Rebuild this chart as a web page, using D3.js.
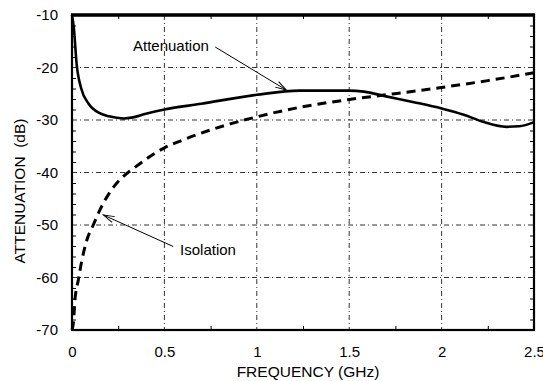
<!DOCTYPE html>
<html>
<head>
<meta charset="utf-8">
<script src="https://cdn.jsdelivr.net/npm/d3@7"></script>
<style>
  body { margin: 0; background: #fff; }
  svg { display: block; font-family: "Liberation Sans", Arial, sans-serif; }
  .tick text { font-size: 15px; fill: #000; }
</style>
</head>
<body>
<div id="chart"></div>
<script>
// data (frequency in GHz, level in dB)
const attenFreq = [0, 0.01, 0.025, 0.05, 0.09, 0.15, 0.2, 0.28, 0.33, 0.4, 0.5, 0.7, 1.0, 1.23, 1.5, 1.58, 1.7, 1.85, 2.0, 2.12, 2.23, 2.35, 2.42, 2.5];
const attenDb = [-10, -12.5, -19.3, -24, -26.9, -28.7, -29.3, -29.7, -29.5, -28.8, -28.0, -26.9, -25.2, -24.4, -24.4, -24.6, -25.5, -26.6, -27.8, -29.0, -30.4, -31.3, -31.2, -30.4];
const isoFreq = [0, 0.007, 0.016, 0.034, 0.052, 0.08, 0.115, 0.15, 0.21, 0.27, 0.33, 0.42, 0.5, 0.6, 0.74, 0.87, 1.0, 1.23, 1.5, 1.7, 2.0, 2.25, 2.5];
const isoDb = [-70, -68.8, -64.3, -60.5, -57, -52.9, -50, -47.2, -43.5, -41, -39.3, -37, -35.3, -33.8, -32, -30.6, -29.4, -27.6, -26.1, -25.2, -23.8, -22.5, -21];

const xTicks = [0, 0.5, 1, 1.5, 2, 2.5];
const yTicks = [-10, -20, -30, -40, -50, -60, -70];

// callouts: label, text anchor point, arrow tail, arrow tip (data units)
const callouts = [
  { label: "Attenuation", tx: 0.33, ty: -16.1, fx: 0.775, fy: -16.1, ax: 1.16, ay: -24.3 },
  { label: "Isolation", tx: 0.585, ty: -55.0, fx: 0.548, fy: -54.1, ax: 0.17, ay: -48.1 }
];

const width = 543, height = 381;
const margin = { top: 15, right: 9, bottom: 51, left: 72 };

const svg = d3.select("#chart").append("svg")
  .attr("width", width)
  .attr("height", height);

const x = d3.scaleLinear().domain([0, 2.5]).range([margin.left, width - margin.right]);
const y = d3.scaleLinear().domain([-70, -10]).range([height - margin.bottom, margin.top]);

svg.append("defs").append("marker")
  .attr("id", "arr")
  .attr("viewBox", "-12 -6 14 12")
  .attr("refX", 0).attr("refY", 0)
  .attr("markerWidth", 14).attr("markerHeight", 12)
  .attr("markerUnits", "userSpaceOnUse")
  .attr("orient", "auto")
  .append("path")
  .attr("d", "M-11,-3.2 L0,0 L-11,3.2")
  .attr("fill", "none")
  .attr("stroke", "#000")
  .attr("stroke-width", 1);

// grid
const grid = svg.append("g").attr("stroke", "#333").attr("stroke-width", 1)
  .attr("stroke-dasharray", "5,3,1,3");
grid.selectAll(".vg").data(xTicks.slice(1, -1)).join("line")
  .attr("x1", d => x(d)).attr("x2", d => x(d))
  .attr("y1", y(-10)).attr("y2", y(-70));
grid.selectAll(".hg").data(yTicks.slice(1)).join("line")
  .attr("y1", d => y(d)).attr("y2", d => y(d))
  .attr("x1", x(0)).attr("x2", x(2.5));

// minor ticks on all four sides, pointing inward
const xMinor = d3.range(0.25, 2.5, 0.5);
const yMinor = d3.range(-68, -10, 2).filter(d => d % 10 !== 0);
const tk = 4;
svg.append("g").attr("transform", `translate(0,${y(-70)})`)
  .call(d3.axisBottom(x).tickValues(xMinor).tickSize(-tk).tickFormat(""))
  .call(g => g.select(".domain").remove());
svg.append("g").attr("transform", `translate(0,${y(-10)})`)
  .call(d3.axisTop(x).tickValues(xMinor).tickSize(-tk).tickFormat(""))
  .call(g => g.select(".domain").remove());
svg.append("g").attr("transform", `translate(${x(0)},0)`)
  .call(d3.axisLeft(y).tickValues(yMinor).tickSize(-tk).tickFormat(""))
  .call(g => g.select(".domain").remove());
svg.append("g").attr("transform", `translate(${x(2.5)},0)`)
  .call(d3.axisRight(y).tickValues(yMinor).tickSize(-tk).tickFormat(""))
  .call(g => g.select(".domain").remove());

// tick labels (plain hyphen, as in the original)
svg.append("g").attr("transform", `translate(0,${y(-70)})`)
  .call(d3.axisBottom(x).tickValues(xTicks).tickSize(0).tickPadding(16).tickFormat(d => String(d)))
  .call(g => g.select(".domain").remove());
svg.append("g").attr("transform", `translate(${x(0)},0)`)
  .call(d3.axisLeft(y).tickValues(yTicks).tickSize(0).tickPadding(14).tickFormat(d => String(d)))
  .call(g => g.select(".domain").remove());

// curves
const line = d3.line().curve(d3.curveMonotoneX).x(d => x(d[0])).y(d => y(d[1]));
svg.append("path")
  .datum(isoFreq.map((f, i) => [f, isoDb[i]]))
  .attr("fill", "none").attr("stroke", "#000").attr("stroke-width", 3)
  .attr("stroke-dasharray", "9,6")
  .attr("d", line);
svg.append("path")
  .datum(attenFreq.map((f, i) => [f, attenDb[i]]))
  .attr("fill", "none").attr("stroke", "#000").attr("stroke-width", 2.6)
  .attr("d", line);

// frame
svg.append("rect")
  .attr("x", x(0)).attr("y", y(-10))
  .attr("width", x(2.5) - x(0)).attr("height", y(-70) - y(-10))
  .attr("fill", "none").attr("stroke", "#000").attr("stroke-width", 2.2);
svg.append("line")
  .attr("x1", x(0) - 1).attr("x2", x(2.5) + 1)
  .attr("y1", y(-10)).attr("y2", y(-10))
  .attr("stroke", "#000").attr("stroke-width", 3.6);

// callouts
callouts.forEach(c => {
  svg.append("text")
    .attr("x", x(c.tx)).attr("y", y(c.ty))
    .attr("dominant-baseline", "middle")
    .attr("font-size", 15)
    .text(c.label);
  svg.append("line")
    .attr("x1", x(c.fx)).attr("y1", y(c.fy))
    .attr("x2", x(c.ax)).attr("y2", y(c.ay))
    .attr("stroke", "#000").attr("stroke-width", 1)
    .attr("marker-end", "url(#arr)");
});

// axis titles
svg.append("text")
  .attr("x", (x(0) + x(2.5)) / 2 + 5).attr("y", height - 4)
  .attr("text-anchor", "middle").attr("font-size", 15.5)
  .text("FREQUENCY (GHz)");
svg.append("text")
  .attr("transform", `translate(25,191) rotate(-90)`)
  .attr("text-anchor", "middle").attr("font-size", 15.5)
  .style("white-space", "pre")
  .text("ATTENUATION  (dB)");
</script>
</body>
</html>
